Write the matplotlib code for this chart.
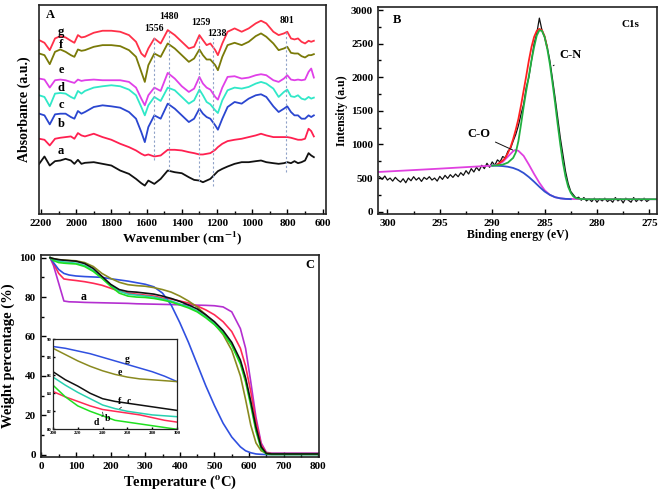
import matplotlib
matplotlib.use("Agg")
import matplotlib.pyplot as plt
from matplotlib.ticker import MultipleLocator

plt.rcParams["font.family"] = "serif"
plt.rcParams["font.serif"] = ["Liberation Serif", "DejaVu Serif"]
plt.rcParams["font.weight"] = "bold"
plt.rcParams["mathtext.fontset"] = "stix"

# ---------------- panel A: FTIR ----------------
wavenumber = [2210, 2180, 2150, 2120, 2090, 2060, 2030, 2010, 1990, 1970, 1950, 1900, 1850,
              1800, 1750, 1700, 1660, 1630, 1610, 1590, 1556, 1520, 1480, 1440, 1400, 1360,
              1330, 1300, 1280, 1259, 1238, 1210, 1195, 1170, 1140, 1100, 1060, 1020, 980,
              950, 920, 880, 850, 820, 801, 780, 760, 740, 720, 700, 680, 665, 650]
ftir_g = [52.0, 51.2, 49.0, 52.5, 53.2, 52.8, 51.8, 51.2, 53.5, 52.8, 53.0, 54.2, 54.8,
          54.8, 54.5, 53.5, 51.5, 48.0, 47.0, 49.5, 52.5, 51.0, 55.0, 53.5, 51.5, 49.5,
          50.0, 53.5, 52.0, 50.5, 51.0, 49.0, 47.5, 51.0, 54.5, 55.5, 54.5, 55.5, 57.0,
          57.8, 57.0, 54.5, 53.5, 54.0, 54.5, 52.5, 52.2, 52.5, 51.5, 51.0, 51.8, 51.5, 51.8]
ftir_f = [48.0, 47.5, 44.8, 48.5, 49.2, 48.5, 47.5, 47.0, 49.2, 48.8, 49.0, 50.0, 50.5,
          50.5, 50.2, 49.0, 47.0, 42.5, 39.5, 44.5, 48.0, 47.0, 51.0, 49.5, 47.5, 45.5,
          46.5, 49.2, 47.5, 46.2, 46.2, 44.5, 43.0, 47.0, 50.5, 51.2, 50.5, 51.5, 53.2,
          54.0, 53.0, 51.0, 49.0, 49.5, 50.0, 48.2, 48.0, 48.0, 47.2, 46.8, 47.5, 47.5, 47.8]
ftir_e = [40.5, 40.2, 37.8, 40.0, 40.2, 40.0, 39.5, 39.2, 40.2, 39.8, 40.0, 40.2, 40.0,
          40.0, 40.0, 39.5, 37.8, 34.5, 32.5, 35.5, 37.8, 36.8, 42.2, 40.5, 38.2, 36.5,
          37.5, 41.0, 39.0, 37.8, 37.2, 35.0, 34.2, 37.8, 41.0, 41.2, 40.5, 40.8, 41.5,
          41.8, 41.5, 40.0, 39.5, 40.5, 41.5, 40.2, 40.0, 40.2, 40.0, 40.2, 42.5, 43.5, 40.8]
ftir_d = [35.5, 35.0, 32.2, 36.0, 36.2, 36.0, 35.0, 34.5, 36.8, 36.0, 36.8, 37.8, 38.2,
          38.5, 38.2, 37.2, 35.5, 32.0, 29.5, 32.5, 35.0, 33.8, 37.8, 37.0, 35.0, 33.0,
          34.0, 37.2, 35.5, 33.5, 32.8, 31.0, 30.2, 34.0, 37.0, 37.8, 37.5, 38.0, 39.0,
          39.5, 39.0, 37.5, 35.0, 36.5, 37.2, 35.2, 35.0, 35.5, 34.5, 34.2, 35.0, 34.5, 34.8]
ftir_c = [30.0, 29.5, 26.8, 29.8, 30.0, 30.0, 29.0, 28.5, 30.8, 30.0, 30.5, 32.0, 32.5,
          32.2, 31.8, 30.5, 28.5, 24.5, 21.5, 26.0, 29.5, 28.5, 33.0, 31.5, 29.5, 27.5,
          28.5, 31.5, 30.0, 29.0, 28.5, 26.5, 25.2, 28.5, 32.0, 33.5, 33.0, 34.5, 35.5,
          35.8, 35.0, 32.2, 30.5, 31.5, 32.2, 30.5, 29.5, 29.5, 28.5, 28.5, 29.5, 29.0, 29.5]
ftir_b = [22.5, 22.2, 20.5, 22.5, 22.8, 23.0, 23.2, 22.5, 24.2, 23.5, 23.2, 24.0, 23.0,
          22.2, 21.0, 20.0, 19.0, 18.0, 17.5, 17.8, 17.2, 17.5, 19.2, 19.2, 19.0, 18.5,
          18.2, 17.8, 17.8, 18.0, 18.2, 19.2, 20.0, 21.0, 21.8, 22.2, 22.5, 23.0, 23.5,
          24.0, 23.5, 23.0, 23.0, 23.0, 23.0, 22.8, 22.5, 22.2, 22.2, 22.5, 25.5, 24.8, 23.2]
ftir_a = [15.0, 17.2, 14.5, 15.8, 16.0, 16.5, 16.0, 15.0, 16.2, 15.0, 15.3, 15.5, 15.0,
          14.5, 13.0, 12.0, 10.5, 9.2, 8.5, 10.0, 9.0, 10.5, 13.0, 12.5, 12.2, 11.0,
          10.2, 10.0, 9.5, 10.0, 10.5, 12.0, 12.8, 13.5, 14.2, 15.0, 15.5, 15.5, 15.8,
          16.0, 15.5, 15.2, 15.0, 15.2, 15.5, 15.2, 15.8, 15.2, 15.5, 16.0, 18.2, 17.5, 17.0]
ftir_labels = ["g", "f", "e", "d", "c", "b", "a"]
ftir_label_y = [54.3, 50.5, 43.0, 37.8, 32.7, 26.8, 18.8]
peak_names = ["1556", "1480", "1259", "1238", "801"]
peak_pos = [1556, 1473, 1302, 1221, 808]
peak_top = [53.0, 55.0, 53.5, 52.5, 54.5]
peak_bottom = [16.0, 13.0, 10.0, 8.5, 12.5]
peak_text_xy = [(1556, 55.6), (1470, 59.0), (1290, 57.3), (1198, 54.0), (800, 57.8)]

# ---------------- panel B: XPS C1s ----------------
be_raw = [300.75, 300.5, 300.25, 300.0, 299.75, 299.5, 299.25, 299.0, 298.75, 298.5, 298.25,
          298.0, 297.75, 297.5, 297.25, 297.0, 296.75, 296.5, 296.25, 296.0, 295.75, 295.5,
          295.25, 295.0, 294.75, 294.5, 294.25, 294.0, 293.75, 293.5, 293.25, 293.0, 292.75,
          292.5, 292.25, 292.0, 291.75, 291.5, 291.25, 291.0, 290.75, 290.5, 290.25, 290.0,
          289.75, 289.5, 289.25, 289.0, 288.75, 288.5, 288.25, 288.0, 287.75, 287.5, 287.25,
          287.0, 286.75, 286.5, 286.25, 286.0, 285.75, 285.5, 285.25, 285.0, 284.75, 284.5,
          284.25, 284.0, 283.75, 283.5, 283.25, 283.0, 282.75, 282.5, 282.25, 282.0, 281.75,
          281.5, 281.25, 281.0, 280.75, 280.5, 280.25, 280.0, 279.75, 279.5, 279.25, 279.0,
          278.75, 278.5, 278.25, 278.0, 277.75, 277.5, 277.25, 277.0, 276.75, 276.5, 276.25,
          276.0, 275.75, 275.5, 275.25, 275.0]
int_raw = [520, 480, 530, 470, 500, 455, 510, 470, 440, 490, 430,
           500, 460, 520, 470, 505, 450, 510, 480, 520, 470, 500,
           455, 525, 480, 540, 495, 550, 510, 560, 520, 580, 540,
           610, 560, 640, 590, 660, 610, 690, 640, 720, 660, 740,
           690, 770, 740, 820, 800, 900, 940, 1050, 1150, 1280, 1450,
           1600, 1850, 2000, 2250, 2500, 2650, 2880, 2700, 2600, 2450, 2250,
           1980, 1700, 1400, 1100, 850, 600, 420, 300, 250, 200, 215,
           170, 210, 160, 190, 150, 200, 140, 190, 160, 200, 150,
           180, 140, 210, 160, 190, 130, 200, 170, 140, 210, 150,
           190, 160, 200, 150, 180]
be_co = [300.9, 295.0, 290.0, 289.5, 289.0, 288.5, 288.0, 287.8, 287.5, 287.0, 286.5, 286.0,
         285.5, 285.0, 284.5, 284.0, 283.5, 283.0, 282.0, 280.0, 274.3]
int_co = [590, 640, 685, 700, 740, 820, 900, 918, 905, 830, 700, 560,
          430, 320, 250, 215, 198, 190, 188, 185, 185]
be_bg = [290.0, 289.5, 289.0, 288.5, 288.0, 287.5, 287.0, 286.5, 286.0, 285.5, 285.0, 284.5,
         284.0, 283.5, 283.0, 282.5]
int_bg = [685, 683, 678, 668, 650, 620, 575, 515, 445, 370, 300, 250,
          215, 198, 190, 186]
be_cn = [290.0, 289.5, 289.0, 288.5, 288.0, 287.75, 287.5, 287.25, 287.0, 286.75, 286.5, 286.25,
         286.0, 285.75, 285.5, 285.25, 285.0, 284.75, 284.5, 284.25, 284.0, 283.75, 283.5,
         283.25, 283.0, 282.75, 282.5, 282.25, 282.0, 281.5, 281.0, 274.3]
int_cn = [685, 690, 700, 730, 800, 880, 1050, 1300, 1560, 1800, 2020, 2250,
          2450, 2620, 2700, 2690, 2600, 2430, 2200, 1920, 1620, 1300, 1000,
          730, 520, 370, 280, 225, 200, 188, 185, 185]
be_sum = [289.5, 289.0, 288.75, 288.5, 288.25, 288.0, 287.75, 287.5, 287.25, 287.0, 286.75,
          286.5, 286.25, 286.0, 285.75, 285.5, 285.25, 285.0, 284.75]
int_sum = [705, 760, 800, 870, 960, 1080, 1220, 1380, 1580, 1800, 2020,
           2250, 2450, 2600, 2690, 2720, 2700, 2610, 2440]

# ---------------- panel C: TGA ----------------
temp = [25, 35, 50, 65, 80, 100, 125, 150, 175, 200, 225, 250, 275, 300, 325, 350, 375,
        400, 425, 450, 475, 500, 525, 550, 575, 590, 605, 620, 635, 650, 665, 700, 800]
tga_a = [100, 96, 87, 78, 77.6, 77.5, 77.3, 77.2, 77.1, 77.0, 76.9, 76.8, 76.6, 76.5, 76.4,
         76.3, 76.2, 76.1, 76.0, 75.9, 75.8, 75.6, 75.0, 72.5, 64, 54, 37, 19, 6, 1.2, 0.8,
         0.8, 0.8]
tga_b = [100, 97, 92, 89.2, 88.8, 88.4, 87.8, 87.0, 86.0, 84.5, 83.0, 82.0, 81.5, 81.0, 80.5,
         79.5, 79.0, 78.0, 77.0, 75.5, 73.5, 71.0, 67.5, 62.5, 54, 45, 32, 17, 5, 0.8, 0.5,
         0.5, 0.5]
tga_c = [100, 99, 98.2, 97.8, 97.5, 97.2, 96.0, 93.5, 90.0, 86.0, 83.0, 81.5, 81.0, 80.5, 80.0,
         79.0, 78.0, 76.5, 75.0, 73.0, 70.0, 66.5, 62.0, 56.0, 47, 38, 26, 13, 3.5, 0.5, 0.3,
         0.3, 0.3]
tga_d = [100, 98.5, 97.5, 97.2, 97.0, 96.8, 95.5, 93.0, 89.5, 85.5, 82.0, 80.5, 80.0, 79.8,
         79.3, 78.5, 77.5, 76.0, 74.5, 72.5, 69.5, 66.0, 61.5, 55.5, 46, 37, 25, 12, 3, 0.3,
         0.1, 0.1, 0.1]
tga_e = [100, 99.5, 99.0, 98.8, 98.6, 98.4, 97.5, 95.5, 92.0, 89.5, 87.5, 86.3, 85.8, 85.5,
         84.8, 83.8, 82.5, 80.5, 78.0, 75.0, 71.0, 66.5, 61.0, 53.0, 40, 28, 15, 6, 2, 0.8,
         0.5, 0.5, 0.5]
tga_f = [100, 99.5, 99.0, 98.7, 98.5, 98.2, 97.0, 94.5, 90.5, 86.5, 83.8, 82.8, 82.5, 82.0,
         81.5, 80.5, 79.3, 77.8, 76.0, 74.0, 71.0, 67.5, 63.0, 57.0, 48, 39, 27, 14, 4, 0.6,
         0.4, 0.4, 0.4]
tga_g = [100, 97.5, 94, 92, 91.2, 90.7, 90.4, 90.2, 90.0, 89.3, 88.7, 88.1, 87.3, 86.5, 85.2,
         82.0, 76.0, 67.0, 57.0, 46.0, 35.0, 25.0, 16.0, 9.0, 4.0, 2.0, 1.0, 0.4, 0.2, 0.1,
         0.1, 0.1, 0.1]

inset_temp = [200, 210, 220, 230, 240, 250, 260, 270, 280, 290, 300]
inset_g = [89.2, 89.0, 88.7, 88.4, 88.0, 87.6, 87.2, 86.8, 86.4, 85.9, 85.3]
inset_e = [89.0, 88.3, 87.6, 87.0, 86.5, 86.1, 85.8, 85.6, 85.5, 85.4, 85.3]
inset_f = [86.4, 85.5, 84.8, 84.0, 83.4, 83.1, 82.9, 82.7, 82.5, 82.3, 82.1]
inset_c = [85.8, 84.9, 84.1, 83.4, 82.7, 82.3, 82.0, 81.8, 81.6, 81.5, 81.4]
inset_b = [84.2, 83.6, 83.1, 82.6, 82.2, 82.0, 81.8, 81.6, 81.3, 81.0, 80.8]
inset_d = [84.9, 83.6, 82.6, 82.0, 81.5, 81.0, 80.8, 80.6, 80.4, 80.2, 80.0]

FIG_W, FIG_H = 661, 495


def px_rect(left, top, right, bottom):
    return [left / FIG_W, 1 - bottom / FIG_H, (right - left) / FIG_W, (bottom - top) / FIG_H]


def style_axes(ax, size=8):
    ax.tick_params(which="both", direction="in", top=False, right=False, labelsize=size, width=1)
    ax.tick_params(which="major", length=3.5)
    ax.tick_params(which="minor", length=2)
    for spine in ax.spines.values():
        spine.set_linewidth(1.2)
        spine.set_color("#222222")
    for lab in ax.get_xticklabels() + ax.get_yticklabels():
        lab.set_fontweight("bold")


fig = plt.figure(figsize=(FIG_W / 100, FIG_H / 100), dpi=100)

# ---- A ----
axA = fig.add_axes(px_rect(39, 5, 326, 214))
ftir_curves = [ftir_g, ftir_f, ftir_e, ftir_d, ftir_c, ftir_b, ftir_a]
ftir_colors = ["#ff3048", "#7a7a08", "#e040e8", "#30e8c8", "#2a46d0", "#ff2050", "#111111"]
for vals, col in zip(ftir_curves, ftir_colors):
    axA.plot(wavenumber, vals, color=col, lw=1.3)
for x, y0, y1 in zip(peak_pos, peak_bottom, peak_top):
    axA.plot([x, x], [y0, y1], ls=(0, (2, 2)), color="#8fa2c8", lw=0.8)
for name, (tx, ty) in zip(peak_names, peak_text_xy):
    axA.text(tx, ty, name, ha="center", va="center", fontsize=7, fontweight="bold")
for name, ly in zip(ftir_labels, ftir_label_y):
    axA.text(2085, ly, name, ha="center", va="center", fontsize=9, fontweight="bold")
axA.text(2170, 59.5, "A", fontsize=9, fontweight="bold", va="center")
axA.set_xlim(2211, 581)
axA.set_ylim(0, 62.5)
axA.set_yticks([])
axA.xaxis.set_major_locator(MultipleLocator(200))
axA.xaxis.set_minor_locator(MultipleLocator(100))
axA.set_xlabel("Wavenumber (cm$^{\\mathbf{-1}}$)", fontsize=9.5, fontweight="bold", labelpad=1)
axA.set_ylabel("Absorbance (a.u.)", fontsize=10, fontweight="bold", labelpad=6)
style_axes(axA)

# ---- B ----
axB = fig.add_axes(px_rect(378, 6.7, 656.7, 214))
axB.plot(be_raw, int_raw, color="#111111", lw=0.9)
axB.plot(be_co, int_co, color="#e040e0", lw=1.3)
axB.plot(be_bg, int_bg, color="#3050d0", lw=1.3)
axB.plot(be_sum, int_sum, color="#ff2020", lw=1.3)
axB.plot(be_cn, int_cn, color="#20b040", lw=1.3)
axB.set_xlim(300.9, 274.3)
axB.set_ylim(-35, 3050)
axB.xaxis.set_major_locator(MultipleLocator(5))
axB.xaxis.set_minor_locator(MultipleLocator(2.5))
axB.yaxis.set_major_locator(MultipleLocator(500))
axB.yaxis.set_minor_locator(MultipleLocator(250))
axB.text(299.5, 2850, "B", fontsize=9, fontweight="bold", va="center")
axB.text(276.0, 2780, "C1s", fontsize=8, fontweight="bold", ha="right", va="center")
axB.annotate("C-N", xy=(284.4, 2150), xytext=(283.6, 2330), fontsize=9, fontweight="bold",
             ha="left", va="center", arrowprops=dict(arrowstyle="-", color="#111111", lw=0.7))
axB.annotate("C-O", xy=(287.8, 900), xytext=(290.2, 1150), fontsize=9, fontweight="bold",
             ha="right", va="center", arrowprops=dict(arrowstyle="-", color="#111111", lw=0.7))
axB.set_xlabel("Binding energy (eV)", fontsize=8.5, fontweight="bold", labelpad=1)
axB.set_ylabel("Intensity (a.u)", fontsize=8.5, fontweight="bold", labelpad=2)
style_axes(axB)

# ---- C ----
axC = fig.add_axes(px_rect(40.7, 254.7, 319.3, 456.7))
tga_curves = [tga_a, tga_b, tga_g, tga_e, tga_c, tga_d, tga_f]
tga_colors = ["#b42fd0", "#ff2a55", "#3050e0", "#8a8a20", "#28d0b0", "#20e020", "#111111"]
for vals, col in zip(tga_curves, tga_colors):
    axC.plot(temp, vals, color=col, lw=1.2)
axC.text(121, 79.8, "a", fontsize=8.5, fontweight="bold", ha="center", va="center")
axC.text(790, 96.5, "C", fontsize=9, fontweight="bold", ha="right", va="center")
axC.set_xlim(-2, 803)
axC.set_ylim(-1, 101.5)
axC.xaxis.set_major_locator(MultipleLocator(100))
axC.xaxis.set_minor_locator(MultipleLocator(50))
axC.yaxis.set_major_locator(MultipleLocator(20))
axC.yaxis.set_minor_locator(MultipleLocator(10))
axC.set_xlabel("Temperature ($^{\\mathbf{o}}$C)", fontsize=10.5, fontweight="bold", labelpad=2)
axC.set_ylabel("Weight percentage (%)", fontsize=10.5, fontweight="bold", labelpad=3)
style_axes(axC)

# ---- inset ----
axI = fig.add_axes(px_rect(53, 339.3, 177, 429.3))
inset_curves = [inset_g, inset_e, inset_f, inset_c, inset_b, inset_d]
inset_colors = ["#3050e0", "#8a8a20", "#111111", "#28d0b0", "#ff2a55", "#20e020"]
for vals, col in zip(inset_curves, inset_colors):
    axI.plot(inset_temp, vals, color=col, lw=1.1)
axI.set_xlim(200, 300)
axI.set_ylim(80, 90)
axI.xaxis.set_major_locator(MultipleLocator(20))
axI.yaxis.set_major_locator(MultipleLocator(2))
axI.text(260, 87.8, "g", fontsize=7, fontweight="bold", ha="center", va="center")
axI.text(254, 86.3, "e", fontsize=7, fontweight="bold", ha="center", va="center")
axI.text(254, 83.1, "f", fontsize=7, fontweight="bold", ha="center", va="center")
axI.annotate("c", xy=(252, 82.1), xytext=(261, 83.1), fontsize=7, fontweight="bold",
             ha="center", va="center", arrowprops=dict(arrowstyle="-", lw=0.5))
axI.text(244, 81.2, "b", fontsize=7, fontweight="bold", ha="center", va="center")
axI.plot([240, 240.5], [81.9, 81.5], color="#111111", lw=0.5)
axI.annotate("d", xy=(240, 81.5), xytext=(235, 80.8), fontsize=7, fontweight="bold",
             ha="center", va="center", arrowprops=dict(arrowstyle="-", lw=0.5))
style_axes(axI, size=3.5)
axI.tick_params(which="major", length=1.5, pad=1)
for spine in axI.spines.values():
    spine.set_linewidth(0.9)

fig.savefig("out.png", dpi=100)
